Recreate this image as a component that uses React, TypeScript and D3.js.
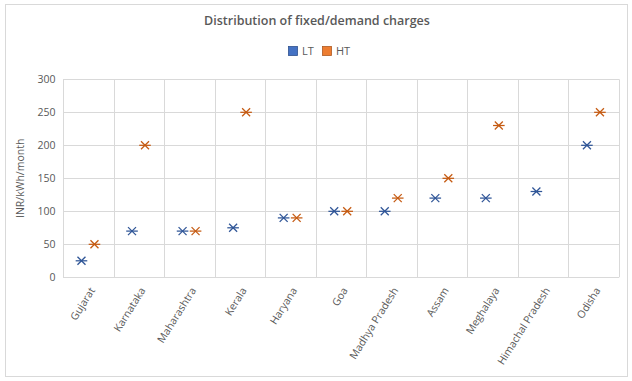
import React from "react";
import * as d3 from "d3";

const categories = ["Gujarat", "Karnataka", "Maharashtra", "Kerala", "Haryana", "Goa", "Madhya Pradesh", "Assam", "Meghalaya", "Himachal Pradesh", "Odisha"];
const ltValues: (number | null)[] = [25, 70, 70, 75, 90, 100, 100, 120, 120, 130, 200];
const htValues: (number | null)[] = [50, 200, 70, 250, 90, 100, 120, 150, 230, null, 250];
const yTicks = [0, 50, 100, 150, 200, 250, 300];
const seriesNames = ["LT", "HT"];

const W = 632, H = 381;
const plot = { left: 63, right: 619, top: 79.3, bottom: 277.3 };
const FONT = "'Open Sans', 'Segoe UI', sans-serif";
const TXT = "#595959";
const GRID = "#d9d9d9";

const series = [
  { name: seriesNames[0], values: ltValues, fill: "#4472C4", stroke: "#2F5597", offset: -6.8 },
  { name: seriesNames[1], values: htValues, fill: "#ED7D31", stroke: "#C55A11", offset: 6.2 },
];

function Marker({ x, y, color }: { x: number; y: number; color: string }) {
  const a = 4, h = 5.8;
  return (
    <g stroke={color} strokeWidth={1.25} fill="none">
      <line x1={x - a} y1={y - a} x2={x + a} y2={y + a} />
      <line x1={x - a} y1={y + a} x2={x + a} y2={y - a} />
      <line x1={x - h} y1={y} x2={x + h} y2={y} />
    </g>
  );
}

export default function App() {
  const x = d3.scaleBand<string>().domain(categories).range([plot.left, plot.right]).padding(0);
  const y = d3.scaleLinear().domain([0, 300]).range([plot.bottom, plot.top]);
  const bw = x.bandwidth();

  return (
    <svg width={W} height={H} style={{ position: "absolute", left: 0, top: 0, background: "#fff" }} fontFamily={FONT}>
      <rect x={0} y={0} width={W} height={H} fill="#fff" />
      <rect x={5.5} y={4.5} width={622} height={372} fill="#fff" stroke={GRID} strokeWidth={1} />
      <text x={317} y={25} textAnchor="middle" fontSize={12.5} fontWeight={600} fill={TXT}>
        Distribution of fixed/demand charges
      </text>
      {/* legend */}
      <g fontSize={11} fill={TXT}>
        <rect x={288.5} y={46.5} width={9} height={9} fill={series[0].fill} stroke="#2F528F" strokeWidth={0.8} />
        <text x={302} y={55}>{series[0].name}</text>
        <rect x={322.5} y={46.5} width={9} height={9} fill={series[1].fill} stroke="#AE5A21" strokeWidth={0.8} />
        <text x={336} y={55}>{series[1].name}</text>
      </g>
      {/* grid */}
      <g stroke={GRID} strokeWidth={1}>
        {yTicks.map((t) => (
          <line key={"h" + t} x1={plot.left} x2={plot.right} y1={Math.round(y(t)) + 0.5} y2={Math.round(y(t)) + 0.5} />
        ))}
        {categories.map((c) => (
          <line key={"v" + c} x1={Math.round(x(c)!) + 0.5} x2={Math.round(x(c)!) + 0.5} y1={plot.top} y2={plot.bottom} />
        ))}
        <line x1={Math.round(plot.right) + 0.5} x2={Math.round(plot.right) + 0.5} y1={plot.top} y2={plot.bottom} />
      </g>
      {/* y tick labels */}
      <g fontSize={10.5} fill={TXT} textAnchor="end">
        {yTicks.map((t) => (
          <text key={"yl" + t} x={55.5} y={y(t) + 3.8}>{t}</text>
        ))}
      </g>
      <text transform={`translate(24,${(plot.top + plot.bottom) / 2}) rotate(-90)`} textAnchor="middle" fontSize={10.5} fill={TXT}>
        INR/kWh/month
      </text>
      {/* x labels */}
      <g fontSize={10.5} fill={TXT}>
        {categories.map((c) => {
          const cx = x(c)! + bw / 2 + 4;
          const cy = plot.bottom + 11;
          return (
            <text key={"xl" + c} transform={`translate(${cx},${cy}) rotate(-58)`} textAnchor="end" dy="0.35em">
              {c}
            </text>
          );
        })}
      </g>
      {/* markers */}
      {series.map((s) =>
        s.values.map((v, i) =>
          v == null ? null : (
            <Marker key={s.name + i} x={x(categories[i])! + bw / 2 + s.offset} y={y(v)} color={s.stroke} />
          )
        )
      )}
    </svg>
  );
}
